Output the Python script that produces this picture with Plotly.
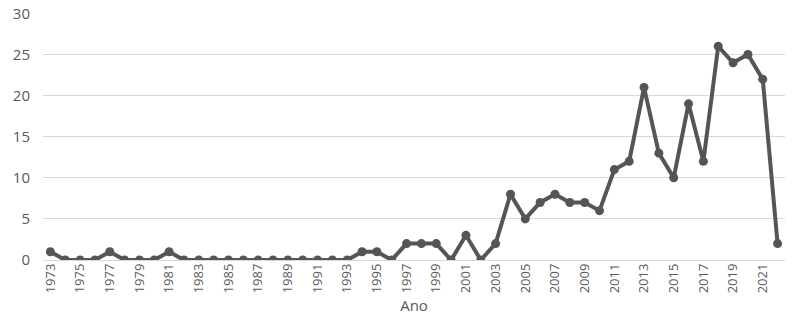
import plotly.graph_objects as go

years = list(range(1973, 2023))
values = [1, 0, 0, 0, 1, 0, 0, 0, 1, 0,
          0, 0, 0, 0, 0, 0, 0, 0, 0, 0,
          0, 1, 1, 0, 2, 2, 2, 0, 3, 0,
          2, 8, 5, 7, 8, 7, 7, 6, 11, 12,
          21, 13, 10, 19, 12, 26, 24, 25, 22, 2]
tick_years = list(range(1973, 2023, 2))
y_ticks = [0, 5, 10, 15, 20, 25, 30]

fig = go.Figure()
fig.add_trace(go.Scatter(
    x=years, y=values, mode="lines+markers",
    line=dict(color="#555555", width=4),
    marker=dict(color="#555555", size=9),
    showlegend=False,
))
fig.update_layout(
    width=800, height=332,
    margin=dict(l=43, r=15, t=13, b=72),
    paper_bgcolor="white", plot_bgcolor="white",
    font=dict(family="Open Sans, sans-serif", color="#595959", size=13),
    xaxis=dict(
        range=[1972.5, 2022.5], automargin=False,
        tickmode="array", tickvals=tick_years, ticktext=[str(y) for y in tick_years],
        tickangle=-90, showgrid=False, zeroline=False, showline=False,
        ticks="", tickfont=dict(size=13),
        title=dict(text="Ano", font=dict(size=15), standoff=8),
    ),
    yaxis=dict(
        range=[0, 30.05], tickvals=y_ticks, automargin=False,
        ticklabeloverflow="allow",
        showgrid=True, gridcolor="#d9d9d9", gridwidth=1,
        zeroline=True, zerolinecolor="#d9d9d9", zerolinewidth=1,
        showline=False, ticks="", ticklabelstandoff=12,
        tickfont=dict(size=15),
    ),
)
fig.write_html("out.html", config={"displayModeBar": False},
               post_script="document.body.style.margin='0';")
